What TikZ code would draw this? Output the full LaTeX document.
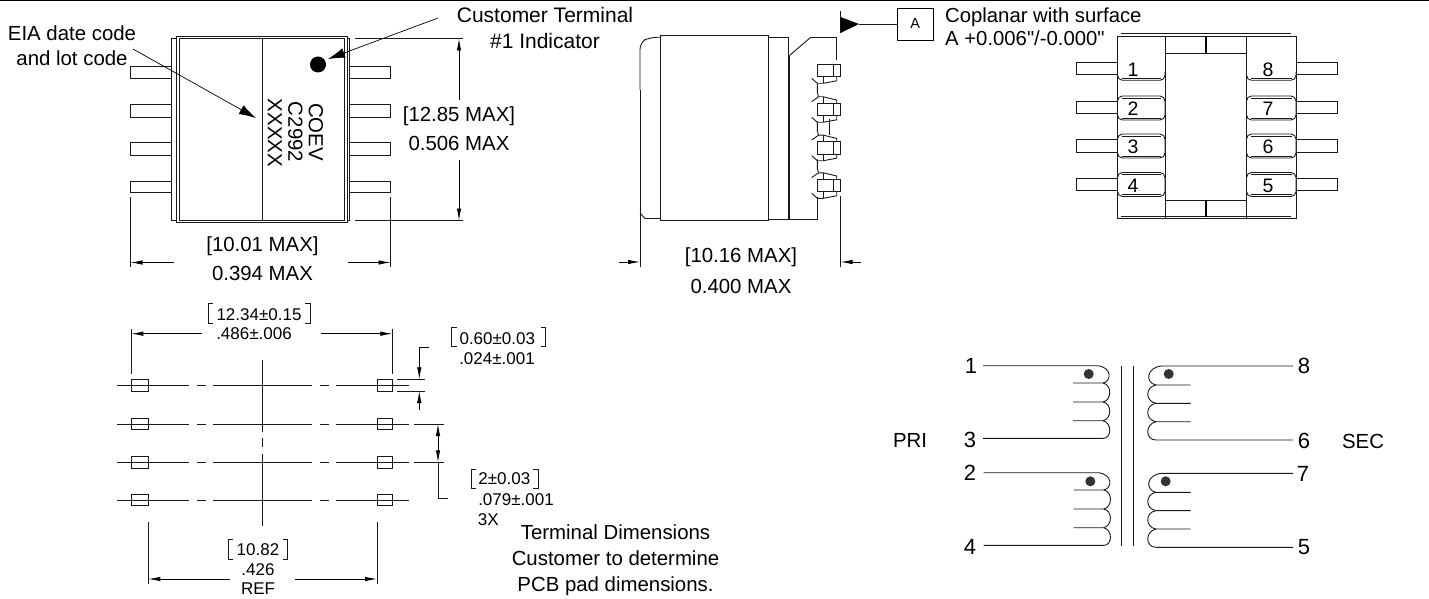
\documentclass[tikz,border=0pt]{standalone}
\usepackage{fontspec}
\setmainfont{Liberation Sans}
\newfontfamily\straightfont{Liberation Sans}
\usetikzlibrary{arrows.meta}
\tikzset{
	part/.style={line width=0.9pt, black!90},
	leader/.style={line width=0.7pt, -{Latex[length=17pt,width=10pt]}},
	dimarrow/.style={line width=0.8pt, -{Latex[length=12pt,width=4.5pt]}},
	labelbig/.style={font=\fontsize{20.4}{25}\selectfont, inner sep=0pt},
	labelsmall/.style={font=\fontsize{17}{20}\selectfont, inner sep=0pt},
	labelpin/.style={font=\fontsize{19.5}{22}\selectfont, inner sep=0pt},
	labelwind/.style={font=\fontsize{22}{24}\selectfont, inner sep=0pt},
}
\newcommand{\dimbracket}[4]{\draw[part] ({#1+5},#3) -- (#1,#3) -- (#1,#4) -- ({#1+5},#4);
	\draw[part] ({#2-5},#3) -- (#2,#3) -- (#2,#4) -- ({#2-5},#4);}
\begin{document}
\begin{tikzpicture}[x=1pt, y=-1pt]
	\useasboundingbox (0,0) rectangle (1429,599);
	\draw[line width=1.5pt] (0,0.7) -- (1429,0.7);

	% Top view
	\begin{scope}
		\draw[part] (176.7,36.5) rectangle (347.3,222);
		\draw[part] (179.5,38.5) rectangle (344.5,220);
		\draw[part] (176.7,38.5) -- (171.5,38.5) -- (171.5,220.5) -- (176.7,220.5);
		\draw[part] (347.3,38.5) -- (349.5,38.5) -- (349.5,220.5) -- (347.3,220.5);
		\draw[part] (262.5,38.5) -- (262.5,220);
		\foreach \ytop/\ybot in {66/78.5, 104.5/117, 142.5/155, 181/192.5} {
			\draw[part] (130.5,\ytop) rectangle (171.5,\ybot);
			\draw[part] (349.5,\ytop) rectangle (390.5,\ybot);
		}
		\fill (318,64.5) circle (8);
		\node[labelbig, rotate=-90] (markone) at (316,132) {COEV};
		\node[labelbig, rotate=-90] (marktwo) at (295.5,132) {C2992};
		\node[labelbig, rotate=-90] (markthree) at (275,133) {XXXXX};

		\node[labelbig, align=center] (eialabel) at (72,45.5) {EIA date code\\and lot code};
		\node[labelbig, font=\fontsize{21}{26}\selectfont, align=center] (indicator) at (545,28) {Customer Terminal\\\#1 Indicator};
		\coordinate (eiatip) at (256,118);
		\coordinate (dottip) at (328,59);
		\draw[leader] (133,49) -- (eiatip);
		\draw[leader] (438,18) -- (dottip);

		\draw[part] (355,38.5) -- (463,38.5);
		\draw[part] (355,220.5) -- (463,220.5);
		\draw[dimarrow] (459,100) -- (459,38.5);
		\draw[dimarrow] (459,160) -- (459,220.5);
		\node[labelbig] (heightmm) at (459,116) {[12.85 MAX]};
		\node[labelbig] (heightin) at (459,143) {0.506 MAX};

		\draw[part] (130.5,197) -- (130.5,267);
		\draw[part] (390.5,197) -- (390.5,267);
		\draw[dimarrow] (174,262.5) -- (130.5,262.5);
		\draw[dimarrow] (348,262.5) -- (390.5,262.5);
		\node[labelbig] (widthmm) at (262.5,246) {[10.01 MAX]};
		\node[labelbig] (widthin) at (262.5,273) {0.394 MAX};
	\end{scope}

	% Side view
	\begin{scope}
		\draw[part] (660.7,35) rectangle (768,220.5);
		\draw[part, rounded corners=7pt] (660.7,37.3) -- (650,37.3) -- (640,42) -- (640,90);
		\draw[part] (640,90) -- (640,267);
		\draw[part] (640,213) -- (645,218.5) -- (660.7,218.5);
		\draw[part] (768,37.5) -- (788.5,37.5) -- (788.5,219.5) -- (768,219.5);
		\draw[line width=1.4pt, black!90] (789.7,55) -- (789.7,219.5);
		\draw[part] (790,55) -- (810.5,37.5) -- (836.5,37.5) -- (836.5,60);
		\draw[part] (790,219.5) -- (817.3,219.5) -- (817.3,197);
		\foreach \ytop [count=\i] in {64.3, 103.3, 141.7, 179.3} {
			\draw[part] (817.3,\ytop) rectangle (840.5,{\ytop+12.6});
			\draw[part] (833.5,\ytop) -- (833.5,{\ytop+12.6});
			\draw[part] (811.7,{\ytop+14}) -- (817.3,{\ytop+19}) -- (823.3,{\ytop+19}) -- (836.7,{\ytop+16.5}) -- (836.7,{\ytop+12.6});
			\draw[part] (823.3,{\ytop+12.6}) -- (823.3,{\ytop+19});
			\ifnum\i>1
				\draw[part] (811.7,{\ytop-1.7}) -- (818.5,{\ytop-6.5}) -- (823.3,{\ytop-6.5}) -- (836.7,{\ytop-3.3}) -- (836.7,\ytop);
				\draw[part] (823.3,{\ytop-6.5}) -- (823.3,\ytop);
				\draw[part] (817.3,{\ytop-20}) -- (817.3,{\ytop-11}) -- (818.5,{\ytop-6.5});
			\fi
		}
		\draw[part] (829.3,119) -- (829.3,135);
		\draw[part] (840.5,11) -- (840.5,33);
		\fill[black] (840.5,17) -- (859,24) -- (840.5,33) -- cycle;
		\node[draw, line width=0.9pt, minimum width=36pt, minimum height=32pt, inner sep=0pt, font=\fontsize{14.5}{16}\selectfont] (datum) at (915.3,24) {A};
		\draw[part] (859,24) -- (datum.west);
		\node[labelbig, font=\straightfont\fontsize{20.3}{23}\selectfont, align=left, anchor=west] (coplanar) at (945,27) {Coplanar with surface\\A +0.006"/-0.000"};

		\draw[part] (840.5,196) -- (840.5,267);
		\draw[dimarrow] (619,262) -- (640,262);
		\draw[dimarrow] (861,262) -- (840.5,262);
		\node[labelbig] (depthmm) at (741,257.5) {[10.16 MAX]};
		\node[labelbig] (depthin) at (741,286) {0.400 MAX};
	\end{scope}

	% Terminal side view
	\begin{scope}
		\draw[part] (1117.5,36) rectangle (1296,218);
		\draw[part] (1121,33.5) -- (1290.5,33.5);
		\draw[part] (1121,216.5) -- (1290.5,216.5);
		\draw[part] (1165,36) -- (1165,218);
		\draw[part] (1246.5,36) -- (1246.5,218);
		\draw[part] (1165,53) -- (1246.5,53);
		\draw[part] (1165,200) -- (1246.5,200);
		\draw[line width=1.3pt] (1206,36) -- (1206,53);
		\draw[line width=1.3pt] (1206,200) -- (1206,217);
		\foreach \ytop/\ybot in {62.7/74.7, 101/113.3, 139.7/152, 178/190} {
			\draw[part] (1076,\ytop) rectangle (1117.5,\ybot);
			\draw[part] (1296,\ytop) rectangle (1337,\ybot);
		}
		\foreach \xa/\xb in {1117.5/1165, 1246.5/1296} {
			\draw[part, rounded corners=5pt] (\xa,72) -- (\xa,80.3) -- (\xb,80.3) -- (\xb,72);
			\draw[part] ({\xa+4},78.5) -- ({\xb-4},78.5);
			\foreach \ytop in {96, 134, 172.5} {
				\draw[part, rounded corners=5pt, fill=white] (\xa,\ytop) rectangle (\xb,{\ytop+24});
				\draw[part] ({\xa+4},{\ytop+2}) -- ({\xb-4},{\ytop+2});
				\draw[part] ({\xa+4},{\ytop+22}) -- ({\xb-4},{\ytop+22});
			}
		}
		\foreach \num/\xpos/\ypos in {1/1133/70, 2/1133/109, 3/1133/147, 4/1133/186, 8/1268/70, 7/1268/109, 6/1268/147, 5/1268/186}
			\node[labelpin] (pin\num) at (\xpos,\ypos) {\num};
	\end{scope}

	% Terminal dimensions
	\begin{scope}
		\foreach \yrow in {385.7, 424, 462.3, 500} {
			\foreach \xa/\xb in {116.7/189, 197/205.7, 213/311.7, 319.7/329, 336/408.7}
				\draw[part] (\xa,\yrow) -- (\xb,\yrow);
			\draw[part] (131.3,{\yrow-5.8}) rectangle (148.3,{\yrow+5.8});
			\draw[part] (377,{\yrow-5.8}) rectangle (392.7,{\yrow+5.8});
		}
		\draw[part] (414,424) -- (444,424);
		\draw[part] (414,462.3) -- (444,462.3);
		\foreach \ya/\yb in {360/431.7, 438.3/446.7, 454/526}
			\draw[part] (262.7,\ya) -- (262.7,\yb);

		\draw[part] (131.3,329.3) -- (131.3,374);
		\draw[part] (392.3,329.3) -- (392.3,374);
		\draw[dimarrow] (202.3,333.7) -- (131.3,333.7);
		\draw[dimarrow] (320.7,333.7) -- (392.3,333.7);
		\node[labelsmall] (pitchmm) at (259,315) {12.34±0.15};
		\node[labelsmall] (pitchin) at (254,334) {.486±.006};
		\dimbracket{208.3}{310}{303.3}{323.3}

		\draw[part] (397,379.3) -- (425,379.3);
		\draw[part] (397,391) -- (425,391);
		\draw[dimarrow] (429,347.3) -- (419.3,347.3) -- (419.3,379.3);
		\draw[dimarrow] (419.3,409.7) -- (419.3,391);
		\node[labelsmall] (thickmm) at (497.3,338.3) {0.60±0.03};
		\node[labelsmall] (thickin) at (497,359) {.024±.001};
		\dimbracket{451.7}{545.7}{327.3}{346.7}

		\draw[line width=0.8pt, {Latex[length=12pt,width=4.5pt]}-{Latex[length=12pt,width=4.5pt]}] (438,424) -- (438,462.3);
		\draw[part] (438,462.3) -- (438,498) -- (448,498);
		\node[labelsmall] (spacemm) at (504.3,479) {2±0.03};
		\node[labelsmall] (spacein) at (516,499.3) {.079±.001};
		\node[labelsmall] (spacecount) at (488.3,519.3) {3X};
		\dimbracket{471}{538.3}{469}{488.3}

		\draw[part] (148.3,522) -- (148.3,584);
		\draw[part] (377,522) -- (377,584);
		\draw[dimarrow] (230,579) -- (148.3,579);
		\draw[dimarrow] (295,579) -- (377,579);
		\node[labelsmall] (gapmm) at (258,550) {10.82};
		\node[labelsmall] (gapin) at (258,570) {.426};
		\node[labelsmall] (gapref) at (258,589) {REF};
		\dimbracket{228.3}{287.7}{539.3}{559}

		\node[labelbig, font=\fontsize{20.4}{26}\selectfont, align=center] (padnote) at (615.5,560) {Terminal Dimensions\\Customer to determine\\PCB pad dimensions.};
	\end{scope}

	% Windings
	\draw[part] (1121.7,366) -- (1121.7,545.7);
	\draw[part] (1133.7,366) -- (1133.7,545.7);
	\foreach \xoff/\yoff in {0/365.7, 0.7/472.7} {
		\begin{scope}[shift={(\xoff,\yoff)}]
			\draw[part] (983,0) -- (1097,0) .. controls (1112,1) and (1112,15.5) .. (1103,17.3) -- (1073,17.3);
			\draw[part] (1103,17.3) .. controls (1112,19) and (1112,34.5) .. (1103,36.3) -- (1073,36.3);
			\draw[part] (1103,36.3) .. controls (1112,38) and (1112,53) .. (1103,55) -- (1073,55);
			\draw[part] (1103,55) .. controls (1112,57) and (1112,72.7) .. (1103,72.7) -- (983,72.7);
		\end{scope}
	}
	\foreach \yoff in {366, 473.3} {
		\begin{scope}[shift={(0,\yoff)}]
			\draw[part] (1293,0) -- (1162,0) .. controls (1146,1) and (1145,17) .. (1156,19) -- (1190.7,19);
			\draw[part] (1156,19) .. controls (1145,21) and (1145,35.5) .. (1156,37.3) -- (1190.7,37.3);
			\draw[part] (1156,37.3) .. controls (1145,39) and (1145,54) .. (1156,55.7) -- (1190.7,55.7);
			\draw[part] (1156,55.7) .. controls (1145,58) and (1145,74) .. (1156,74) -- (1293,74);
		\end{scope}
	}
	\foreach \xdot/\ydot in {1088.7/374, 1090.3/481.3, 1168.7/374, 1165.7/481.3}
		\fill[black!80] (\xdot,\ydot) circle (5);
	\foreach \num/\xpos/\ypos in {1/971/366, 3/970/440, 2/970/473, 4/970/547, 8/1304/366, 6/1304/441, 7/1303/474, 5/1304/547}
		\node[labelwind] (wind\num) at (\xpos,\ypos) {\num};
	\node[labelbig] (pri) at (910,440) {PRI};
	\node[labelbig] (sec) at (1363,441) {SEC};
\end{tikzpicture}
\end{document}
